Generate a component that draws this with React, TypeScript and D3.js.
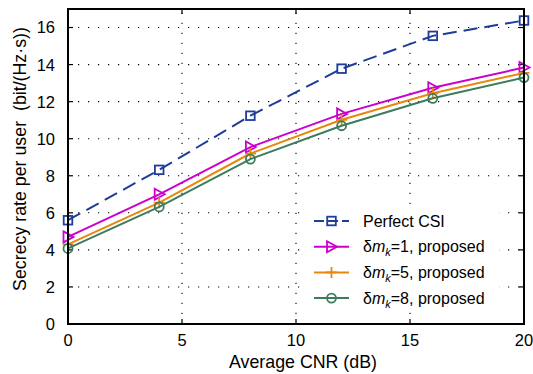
import React from "react";
import * as d3 from "d3";

const cnr = [0, 4, 8, 12, 16, 20];
const perfectCSI = [5.6, 8.32, 11.24, 13.78, 15.55, 16.38];
const dm1 = [4.7, 7.0, 9.55, 11.34, 12.75, 13.84];
const dm5 = [4.3, 6.55, 9.2, 11.02, 12.45, 13.55];
const dm8 = [4.08, 6.32, 8.9, 10.7, 12.18, 13.3];
const xTicks = [0, 5, 10, 15, 20];
const yTicks = [0, 2, 4, 6, 8, 10, 12, 14, 16];

const W = 533, H = 374;
const L = 68, T = 9, R = 524, B = 324;
const FONT = "'Liberation Sans', Arial, sans-serif";

type S = { name: string; dm?: string; data: number[]; color: string; marker: string; dash?: string };
const series: S[] = [
  { name: "Perfect CSI", data: perfectCSI, color: "#1f3c9a", marker: "square", dash: "14,7" },
  { name: "", dm: "1", data: dm1, color: "#cc00cc", marker: "tri" },
  { name: "", dm: "5", data: dm5, color: "#e8870e", marker: "plus" },
  { name: "", dm: "8", data: dm8, color: "#3c7c5c", marker: "circle" },
];

function Marker({ type, x, y, color }: { type: string; x: number; y: number; color: string }) {
  const sw = 1.8;
  if (type === "square")
    return <rect x={x - 4.3} y={y - 4.3} width={8.6} height={8.6} fill="none" stroke={color} strokeWidth={sw} />;
  if (type === "tri")
    return <path d={`M${x - 4.5},${y - 5.5}L${x + 5.5},${y}L${x - 4.5},${y + 5.5}Z`} fill="none" stroke={color} strokeWidth={sw} />;
  if (type === "plus")
    return <path d={`M${x - 5.5},${y}H${x + 5.5}M${x},${y - 5.5}V${y + 5.5}`} fill="none" stroke={color} strokeWidth={sw} />;
  return <circle cx={x} cy={y} r={4.5} fill="none" stroke={color} strokeWidth={sw} />;
}

export default function App() {
  const x = d3.scaleLinear().domain([0, 20]).range([L, R]);
  const y = d3.scaleLinear().domain([0, 17]).range([B, T]);
  const line = d3.line<number>().x((_, i) => x(cnr[i])).y((d) => y(d));
  const legX = 314, legY0 = 221, legDy = 25.7;
  return (
    <svg width={W} height={H} style={{ position: "absolute", left: 0, top: 0, background: "#fff" }} fontFamily={FONT}>
      <rect x={0} y={0} width={W} height={H} fill="#fff" />
      {/* grid */}
      {yTicks.filter((t) => t > 0).map((t) => (
        <line key={"gy" + t} x1={L} x2={R} y1={y(t)} y2={y(t)} stroke="#000" strokeWidth={1.1} strokeDasharray="1.2,8.8" />
      ))}
      {xTicks.filter((t) => t > 0 && t < 20).map((t) => (
        <line key={"gx" + t} x1={x(t)} x2={x(t)} y1={B} y2={T} stroke="#000" strokeWidth={1.1} strokeDasharray="1.2,8.8" />
      ))}
      {/* ticks */}
      {yTicks.map((t) => (
        <g key={"ty" + t}>
          <line x1={L} x2={L + 5} y1={y(t)} y2={y(t)} stroke="#000" strokeWidth={1.2} />
          <line x1={R} x2={R - 5} y1={y(t)} y2={y(t)} stroke="#000" strokeWidth={1.2} />
          <text x={55} y={y(t)} dy="0.36em" textAnchor="end" fontSize={16.5}>{t}</text>
        </g>
      ))}
      {xTicks.map((t) => (
        <g key={"tx" + t}>
          <line x1={x(t)} x2={x(t)} y1={B} y2={B - 5} stroke="#000" strokeWidth={1.2} />
          <line x1={x(t)} x2={x(t)} y1={T} y2={T + 5} stroke="#000" strokeWidth={1.2} />
          <text x={x(t)} y={346} textAnchor="middle" fontSize={16.5}>{t}</text>
        </g>
      ))}
      {/* lines */}
      {series.map((s, i) => (
        <g key={"s" + i}>
          <path d={line(s.data) || ""} fill="none" stroke={s.color} strokeWidth={2} strokeDasharray={s.dash} />
          {s.data.map((v, j) => (
            <Marker key={j} type={s.marker} x={x(cnr[j])} y={y(v)} color={s.color} />
          ))}
        </g>
      ))}
      {/* frame */}
      <rect x={L} y={T} width={R - L} height={B - T} fill="none" stroke="#000" strokeWidth={2} />
      {/* legend */}
      <rect x={303} y={205} width={196} height={107} fill="#fff" />
      {series.map((s, i) => {
        const ly = legY0 + i * legDy;
        return (
          <g key={"l" + i}>
            <line x1={legX} x2={legX + 35} y1={ly} y2={ly} stroke={s.color} strokeWidth={2} strokeDasharray={s.dash ? "10,4" : undefined} />
            <Marker type={s.marker} x={legX + 17.5} y={ly} color={s.color} />
            <text x={363} y={ly} dy="0.36em" fontSize={16}>
              {s.dm ? (
                <>
                  <tspan>δ</tspan>
                  <tspan fontStyle="italic">m</tspan>
                  <tspan fontStyle="italic" fontSize={11} dy="4">k</tspan>
                  <tspan dy="-4">={s.dm}, proposed</tspan>
                </>
              ) : (
                s.name
              )}
            </text>
          </g>
        );
      })}
      {/* axis titles */}
      <text x={303} y={368} textAnchor="middle" fontSize={17.8}>Average CNR (dB)</text>
      <text transform={`translate(26,${159}) rotate(-90)`} textAnchor="middle" fontSize={17.8} xmlSpace="preserve">
        Secrecy rate per user  (bit/(Hz·s))
      </text>
    </svg>
  );
}
